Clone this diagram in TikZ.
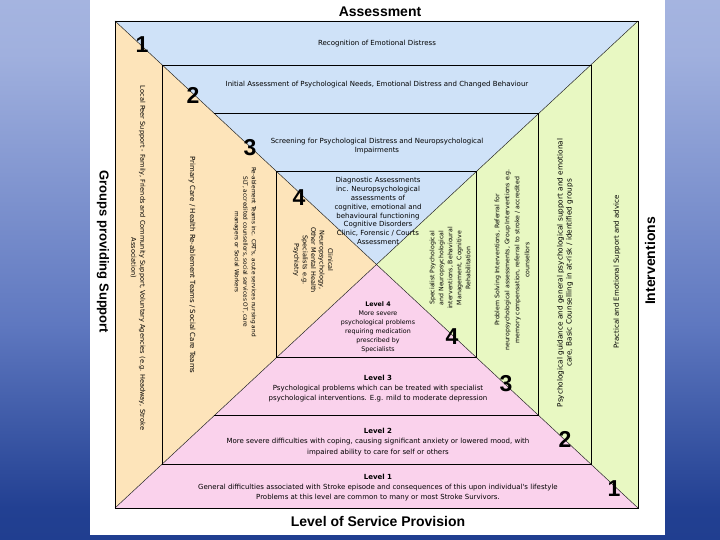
\documentclass[tikz,border=0pt]{standalone}
\usepackage{fontspec}
\setmainfont{Liberation Sans}
\newfontfamily\bodyfont{DejaVu Sans}
\usetikzlibrary{calc}
\definecolor{blueR}{RGB}{207,226,248}
\definecolor{orangeR}{RGB}{253,228,186}
\definecolor{greenR}{RGB}{232,248,194}
\definecolor{pinkR}{RGB}{250,210,236}
\definecolor{bgA}{RGB}{189,201,234}
\definecolor{bgB}{RGB}{160,176,222}
\definecolor{bgC}{RGB}{95,120,192}
\definecolor{bgD}{RGB}{34,64,146}
\definecolor{bgE}{RGB}{18,46,122}
\pgfdeclareverticalshading{slidebg}{100bp}{color(0bp)=(bgE); color(28bp)=(bgD); color(45bp)=(bgC); color(70bp)=(bgB); color(100bp)=(bgA)}
\tikzset{
  body/.style={font=\bodyfont\fontsize{7}{8.8}\selectfont, align=center, inner sep=0pt},
  fs/.style 2 args={font=\bodyfont\fontsize{#1}{#2}\selectfont},
  lvl/.style={font=\fontsize{23}{23}\selectfont\bfseries, inner sep=0pt},
  ttl/.style={font=\fontsize{14}{14}\selectfont\bfseries, inner sep=0pt},
  edge/.style={draw=black, line width=0.6pt},
  diag/.style={draw=black!85, line width=0.5pt},
}
\begin{document}
\begin{tikzpicture}[x=1pt,y=-1pt]
\useasboundingbox (0,0) rectangle (720,540);
\shade[shading=slidebg] (0,0) rectangle (720,540);
\fill[white] (90,0) rectangle (665,535);
\coordinate (A) at (115,21);
\coordinate (B) at (638,21);
\coordinate (C) at (638,508);
\coordinate (D) at (115,508);
\coordinate (O) at (376.5,264.5);
\fill[blueR] (A) -- (B) -- (O) -- cycle;
\fill[orangeR] (A) -- (O) -- (D) -- cycle;
\fill[greenR] (B) -- (C) -- (O) -- cycle;
\fill[pinkR] (D) -- (C) -- (O) -- cycle;
\foreach \n/\t in {2/0.18,3/0.38,4/0.618}{
  \coordinate (A\n) at ($(A)!\t!(O)$);
  \coordinate (B\n) at ($(B)!\t!(O)$);
  \coordinate (C\n) at ($(C)!\t!(O)$);
  \coordinate (D\n) at ($(D)!\t!(O)$);
}
\draw[diag] (A) -- (C);
\draw[diag] (B) -- (D);
\draw[edge] (A) rectangle (C);
\draw[edge] (A2) rectangle (C2);
\draw[edge] (A3) -- (B3) -- (C3) -- (D3);
\draw[edge] (A4) rectangle (C4);

% level numbers
\node[lvl] (nl1) at (142,45) {1};
\node[lvl] (nl2) at (193,95) {2};
\node[lvl] (nl3) at (250,148) {3};
\node[lvl] (nl4) at (299,198) {4};
\node[lvl] (nr4) at (452,337) {4};
\node[lvl] (nr3) at (506,384) {3};
\node[lvl] (nr2) at (565,439) {2};
\node[lvl] (nr1) at (614,489) {1};

% titles
\node[ttl] (tA) at (380,12) {Assessment};
\node[ttl] (tL) at (378,521) {Level of Service Provision};
\node[ttl, rotate=90] (tI) at (650,261) {Interventions};
\node[ttl, rotate=-90, font=\fontsize{13}{13}\selectfont\bfseries] (tG) at (103,252) {Groups providing Support};

% assessment (blue)
\node[body] (b1) at (377,44) {Recognition of Emotional Distress};
\node[body] (b2) at (377,85) {Initial Assessment of Psychological Needs, Emotional Distress and Changed Behaviour};
\node[body] (b3) at (377,146) {Screening for Psychological Distress and Neuropsychological\\Impairments};
\node[body] (b4) at (378,211) {Diagnostic Assessments\\inc. Neuropsychological\\assessments of\\cognitive, emotional and\\behavioural functioning\\Cognitive Disorders\\Clinic, Forensic / Courts\\Assessment};

% service provision (pink)
\node[body, fs={6.3}{9}] (p4) at (378,327) {\textbf{Level 4}\\More severe\\psychological problems\\requiring medication\\prescribed by\\Specialists};
\node[body, fs={7}{10}] (p3) at (378,389) {\textbf{Level 3}\\Psychological problems which can be treated with specialist\\psychological interventions. E.g. mild to moderate depression};
\node[body, fs={7}{10.5}] (p2) at (378,442) {\textbf{Level 2}\\More severe difficulties with coping, causing significant anxiety or lowered mood, with\\impaired ability to care for self or others};
\node[body, fs={7}{10}] (p1) at (378,488) {\textbf{Level 1}\\General difficulties associated with Stroke episode and consequences of this upon individual's lifestyle\\Problems at this level are common to many or most Stroke Survivors.};

% groups providing support (orange)
\node[body, rotate=-90, fs={6.6}{9}] (o1) at (138,258) {Local Peer Support - Family, Friends and Community Support, Voluntary Agencies (e.g. Headway, Stroke\\Association)};
\node[body, rotate=-90] (o2) at (192,265) {Primary Care / Health Re-ablement Teams / Social Care Teams};
\node[body, rotate=-90, fs={5.8}{8.5}] (o3) at (245,252) {Re-ablement Teams inc. CRT's, acute services nursing and\\SLT, accredited counsellors, social services OT, care\\managers or Social Workers};
\node[body, rotate=-90, fs={6.5}{8.4}] (o4) at (313,260) {Clinical\\Neuropsychology,\\Other Mental Health\\Specialists e.g.\\Psychiatry};

% interventions (green)
\node[body, rotate=90, fs={6.2}{9}] (g4) at (450,268) {Specialist Psychological\\and Neuropsychological\\interventions, Behavioural\\Management, Cognitive\\Rehabilitation};
\node[body, rotate=90, fs={6.2}{10}] (g3) at (512,260) {Problem Solving Interventions, Referral for\\neuropsychological assessments, Group Interventions e.g.\\memory compensation, referral to stroke / accredited\\counsellors};
\node[body, rotate=90, fs={7.3}{9}] (g2) at (565,273) {Psychological guidance and general psychological support and emotional\\care, Basic Counselling in at-risk / identified groups};
\node[body, rotate=90] (g1) at (617,272) {Practical and Emotional Support and advice};
\end{tikzpicture}
\end{document}
